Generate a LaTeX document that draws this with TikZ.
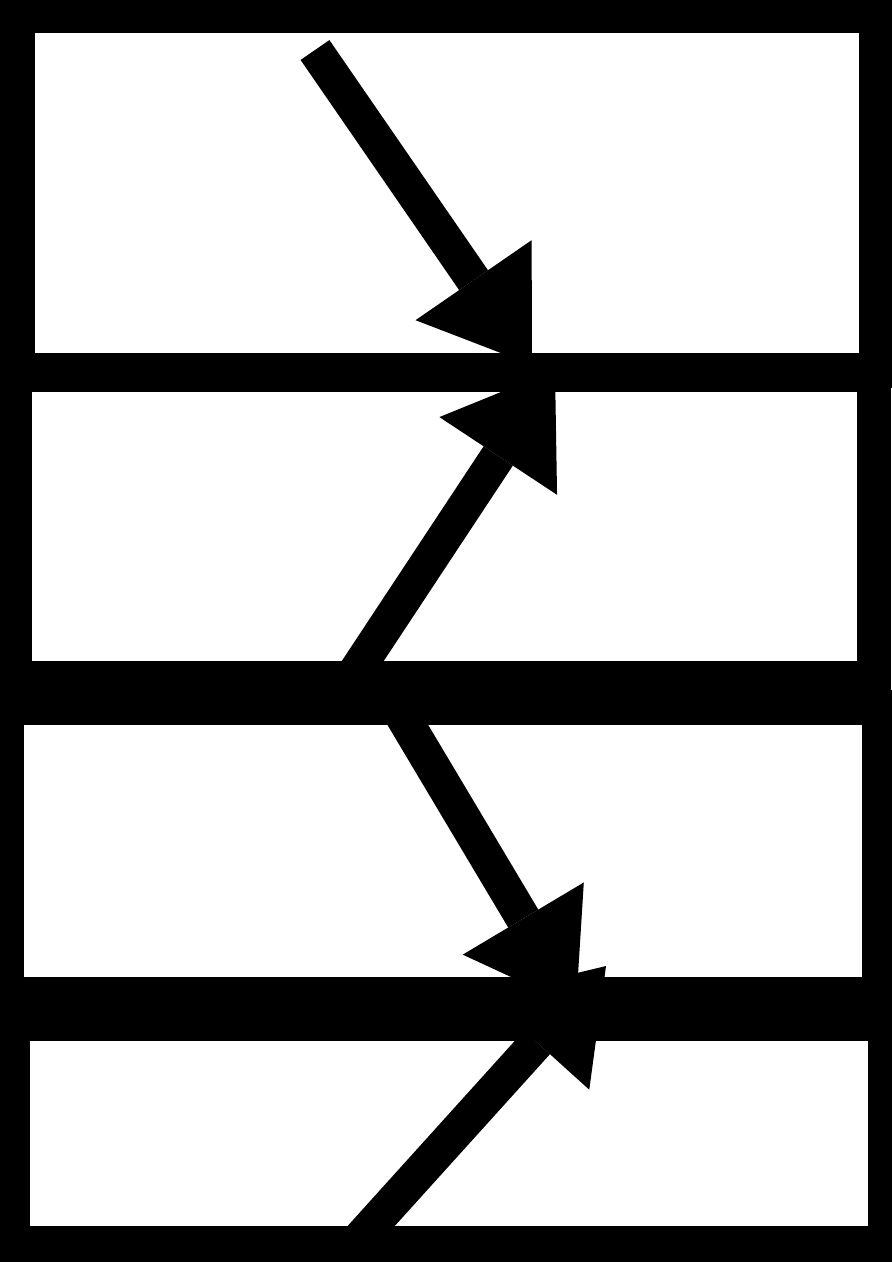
\documentclass[tikz,border=0pt]{standalone}
\usepackage{tikz}
\usetikzlibrary{arrows.meta}

\begin{document}
\begin{tikzpicture}[x=1pt,y=-1pt,
    pane/.style={fill=white},
    ray/.style={line width=35pt,-{Triangle[length=103pt,width=141pt,line width=0pt]}}]
    \useasboundingbox (0,0) rectangle (892,1262);
    \fill[black] (0,0) rectangle (892,1262);
    % layers
    \fill[pane] (35,33) rectangle (859,353);
    \fill[pane] (32,392) rectangle (857,661);
    \fill[pane] (24,725) rectangle (862,977);
    \fill[pane] (30,1041) rectangle (868,1226);
    \fill[pane] (890.5,388) rectangle (892,690);
    % rays
    \coordinate (r1s) at (315,50);
    \coordinate (r1e) at (532,365);
    \coordinate (r2s) at (337,700);
    \coordinate (r2e) at (555,370);
    \coordinate (r3s) at (387,690);
    \coordinate (r3e) at (576,1007);
    \coordinate (r4s) at (354,1245);
    \coordinate (r4e) at (606,966);
    \draw[ray] (r1s) -- (r1e);
    \draw[ray] (r2s) -- (r2e);
    \draw[ray] (r3s) -- (r3e);
    \draw[ray] (r4s) -- (r4e);
\end{tikzpicture}
\end{document}
